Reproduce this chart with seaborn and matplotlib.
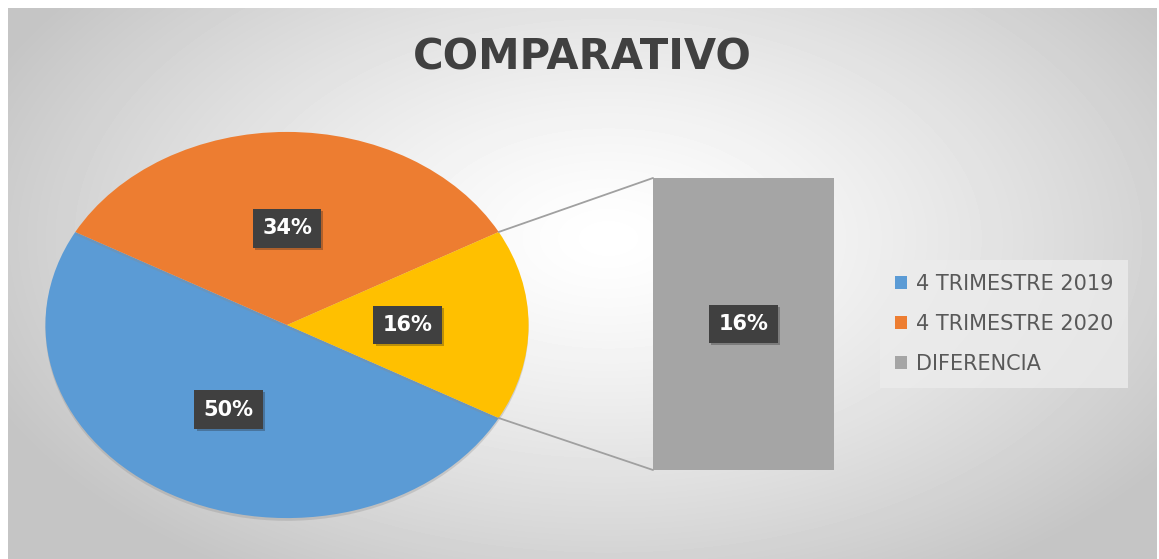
import numpy as np
import pandas as pd
import matplotlib
matplotlib.use("Agg")
import matplotlib.pyplot as plt
import matplotlib.patheffects as pe
from matplotlib.patches import Patch, ConnectionPatch
import seaborn as sns

# datos del grafico
categorias = ["4 TRIMESTRE 2019", "4 TRIMESTRE 2020", "DIFERENCIA"]
valores_pie = [50, 34, 16]
valores_barra = [16]
colores_pie = ["#5b9bd5", "#ed7d31", "#ffc000"]
color_barra = "#a5a5a5"

sns.set_theme(style="white")
plt.rcParams['font.family'] = ['DejaVu Sans']

fig = plt.figure(figsize=(11.59, 5.59), dpi=100, facecolor="white")

# fondo con degradado radial
ax_bg = fig.add_axes([8 / 1159, 0, 1149 / 1159, 551 / 559])
yy, xx = np.mgrid[0:551, 0:1149]
d = np.sqrt(((xx - 600) / 680.0) ** 2 + ((yy - 230) / 400.0) ** 2)
d = np.clip(d, 0, 1) ** 1.3
gris = 1.0 - d * (1.0 - 0.77)
ax_bg.imshow(gris, cmap="gray", vmin=0, vmax=1, aspect="auto", interpolation="bilinear")
ax_bg.axis("off")

fig.text(582 / 1159, 1 - 57 / 559, "COMPARATIVO", ha="center", va="center",
         fontsize=30, fontweight="bold", color="#404040")

# circulo
ax_pie = fig.add_axes([43 / 1159, 39 / 559, 488 / 1159, 390 / 559])
ax_pie.patch.set_alpha(0)
wedges, _, autotexts = ax_pie.pie(
    valores_pie, colors=colores_pie, startangle=-28.8, counterclock=False,
    autopct=lambda p: f"{p:.0f}%", pctdistance=0.5, radius=1,
    wedgeprops=dict(linewidth=0))
for w in wedges:
    w.set_path_effects([pe.SimplePatchShadow(offset=(0, -2), shadow_rgbFace="#8a8a8a", alpha=0.3),
                        pe.Normal()])
ax_pie.set_xlim(-1.01, 1.01)
ax_pie.set_ylim(-1.01, 1.01)
ax_pie.set_aspect("auto")
ax_pie.axis("off")

caja = dict(boxstyle="square,pad=0.45", fc="#404040", ec="none")
sombra = [pe.SimplePatchShadow(offset=(1.5, -1.5), shadow_rgbFace="#202020", alpha=0.3), pe.Normal()]
for t in autotexts:
    t.set_color("white")
    t.set_fontweight("bold")
    t.set_fontsize(15)
    t.set_bbox(caja)
    t.get_bbox_patch().set_path_effects(sombra)

# barra de la diferencia
ax_bar = fig.add_axes([653 / 1159, 89 / 559, 181 / 1159, 292 / 559])
ax_bar.patch.set_alpha(0)
df_bar = pd.DataFrame({"serie": [categorias[2]], "valor": valores_barra})
sns.barplot(data=df_bar, x="serie", y="valor", color=color_barra, saturation=1,
            width=1.0, linewidth=0, ax=ax_bar)
ax_bar.set_xlim(-0.5, 0.5)
ax_bar.set_ylim(0, valores_barra[0])
for p in ax_bar.patches:
    p.set_path_effects([pe.SimplePatchShadow(offset=(2, -2), shadow_rgbFace="#909090", alpha=0.3),
                        pe.Normal()])
ax_bar.axis("off")
lbl = ax_bar.text(0, valores_barra[0] / 2, f"{valores_barra[0]}%", ha="center", va="center",
                  color="white", fontweight="bold", fontsize=15, bbox=caja)
lbl.get_bbox_patch().set_path_effects(sombra)

# lineas de conexion
w = wedges[2]
t_sup, t_inf = max(w.theta1, w.theta2), min(w.theta1, w.theta2)
for ang, yb in [(t_sup, 1), (t_inf, 0)]:
    a = np.deg2rad(ang)
    con = ConnectionPatch(xyA=(np.cos(a), np.sin(a)), coordsA=ax_pie.transData,
                          xyB=(0, yb), coordsB=ax_bar.transAxes,
                          color="#a0a0a0", lw=1.3)
    fig.add_artist(con)

# leyenda
handles = [Patch(facecolor=c, edgecolor="none", linewidth=0)
           for c in [colores_pie[0], colores_pie[1], color_barra]]
leg = fig.legend(handles, categorias, loc="center", bbox_to_anchor=(1004 / 1159, 1 - 324 / 559),
                 frameon=True, fontsize=15, labelspacing=0.95, handlelength=0.6, handleheight=0.6,
                 handletextpad=0.4, borderpad=0.7, borderaxespad=0, fancybox=False)
leg.get_frame().set_facecolor("#ececec")
leg.get_frame().set_alpha(0.8)
leg.get_frame().set_edgecolor("none")
for txt in leg.get_texts():
    txt.set_color("#595959")

fig.savefig("out.png", dpi=100, facecolor="white")
